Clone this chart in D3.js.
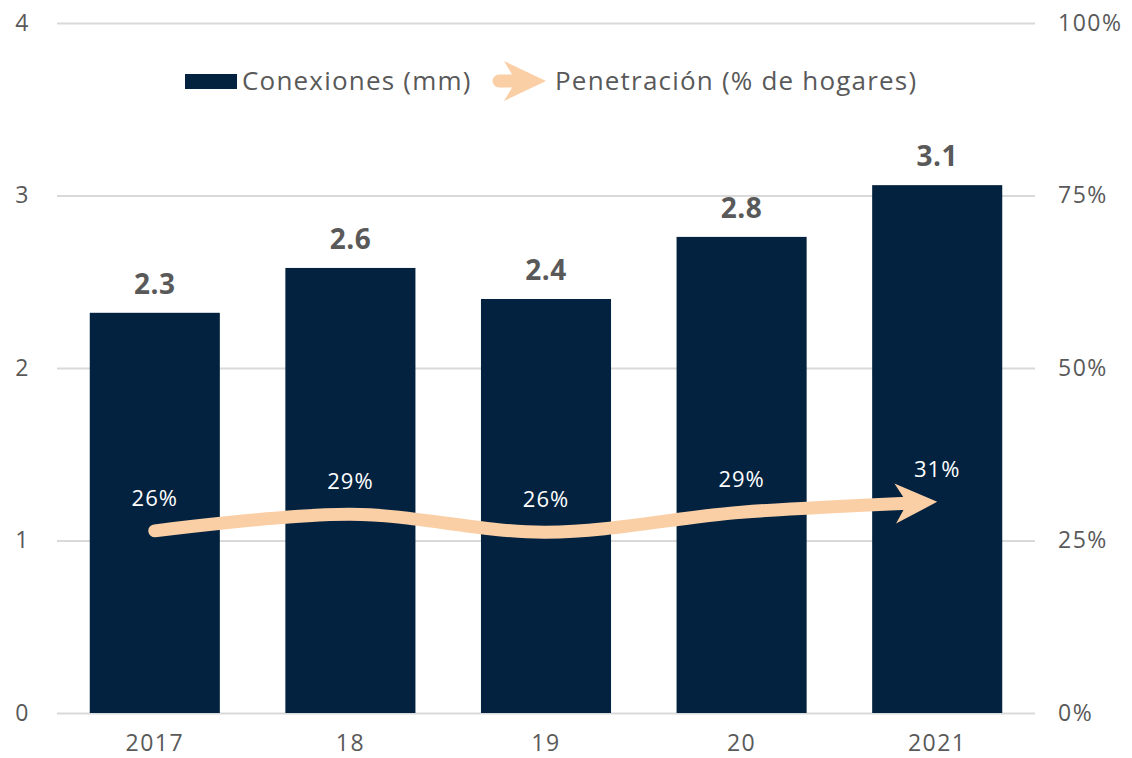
<!DOCTYPE html>
<html>
<head>
<meta charset="utf-8">
<script src="https://cdn.jsdelivr.net/npm/d3@7"></script>
<style>
  body { margin: 0; background: #fff; }
  svg { display: block; font-family: 'Open Sans', sans-serif; }
  .grid line { stroke: #d9d9d9; stroke-width: 2; }
  .axis text { fill: #595959; font-size: 23px; letter-spacing: 1.5px; }
</style>
</head>
<body>
<svg id="chart" width="1132" height="758"></svg>
<script>
// Data
var years = ['2017', '18', '19', '20', '2021']
var conexiones = [2.32, 2.58, 2.40, 2.76, 3.06]
var penetracion = [0.264, 0.288, 0.262, 0.291, 0.306]
var leftTicks = [0, 1, 2, 3, 4]
var rightTicks = [0, 0.25, 0.5, 0.75, 1]
var legendLabels = ['Conexiones (mm)', 'Penetración (% de hogares)']

var barColor = '#03223f'
var lineColor = '#fbcfa6'
var textGray = '#595959'

var svg = d3.select('#chart')

// Plot area (plain "top" would clash with window.top)
var m = {left: 57, right: 1035, top: 23, bottom: 713}

// Scales
var x = d3.scaleBand().domain(years).range([m.left, m.right])
  .paddingInner(0.335)
  .paddingOuter(0.1675)
var yL = d3.scaleLinear().domain([0, 4]).range([m.bottom, m.top])
var yR = d3.scaleLinear().domain([0, 1]).range([m.bottom, m.top])

// Arrow head marker
svg.append('defs').append('marker')
  .attr('id', 'arrow')
  .attr('markerUnits', 'userSpaceOnUse')
  .attr('viewBox', '0 -21 44 42')
  .attr('markerWidth', 44)
  .attr('markerHeight', 42)
  .attr('refX', 42)
  .attr('refY', 0)
  .attr('orient', 'auto')
  .append('path')
  .attr('d', 'M0,-20L42,0L0,20L12,0Z')
  .attr('fill', lineColor)

// Left axis with gridlines
var yAxisL = d3.axisLeft(yL)
  .tickValues(leftTicks)
  .tickFormat(d3.format('d'))
  .tickSize(-(m.right - m.left))
  .tickPadding(27)

svg.append('g')
  .attr('class', 'axis grid')
  .attr('transform', 'translate(' + m.left + ',0)')
  .call(yAxisL)
  .call(g => g.select('.domain').remove())

// Right axis
var yAxisR = d3.axisRight(yR)
  .tickValues(rightTicks)
  .tickSize(0)
  .tickPadding(23)
  .tickFormat(d3.format('.0%'))

svg.append('g')
  .attr('class', 'axis')
  .attr('transform', 'translate(' + m.right + ',0)')
  .call(yAxisR)
  .call(g => g.select('.domain').remove())

// Bottom axis
var xAxis = d3.axisBottom(x).tickSize(0).tickPadding(22)

svg.append('g')
  .attr('class', 'axis')
  .attr('transform', 'translate(0,' + m.bottom + ')')
  .call(xAxis)
  .call(g => g.select('.domain').remove())

svg.selectAll('.axis text').attr('font-family', "'Open Sans', sans-serif")

// Bars
svg.append('g').selectAll('rect')
  .data(conexiones)
  .join('rect')
  .attr('x', (d, i) => x(years[i]))
  .attr('width', x.bandwidth())
  .attr('y', d => yL(d))
  .attr('height', d => m.bottom - yL(d))
  .attr('fill', barColor)

// Bar labels
svg.append('g').selectAll('text')
  .data(conexiones)
  .join('text')
  .attr('x', (d, i) => x(years[i]) + x.bandwidth() / 2)
  .attr('y', d => yL(d) - 19)
  .attr('text-anchor', 'middle')
  .attr('font-size', 28)
  .attr('font-weight', 'bold')
  .attr('letter-spacing', 0.5)
  .attr('fill', textGray)
  .text(d3.format('.1f'))

// Penetration line
var pts = penetracion.map((d, i) => [x(years[i]) + x.bandwidth() / 2, yR(d)])
var line = d3.line().curve(d3.curveCatmullRom.alpha(0.5))

var path = svg.append('path')
  .attr('d', line(pts))
  .attr('fill', 'none')
  .attr('stroke', lineColor)
  .attr('stroke-width', 13)
  .attr('stroke-linecap', 'round')

// Stop the stroke before the tip so the head stays sharp
var len = path.node().getTotalLength()
path.attr('stroke-dasharray', (len - 30) + ',2000')

// Head at the exact end of the curve
var tail = path.node().getPointAtLength(len - 1)
var tip = path.node().getPointAtLength(len)
svg.append('path')
  .attr('d', 'M' + tail.x + ',' + tail.y + 'L' + tip.x + ',' + tip.y)
  .attr('fill', 'none')
  .attr('marker-end', 'url(#arrow)')

// Penetration labels
svg.append('g').selectAll('text')
  .data(penetracion)
  .join('text')
  .attr('x', (d, i) => pts[i][0])
  .attr('y', d => yR(d) - 25)
  .attr('text-anchor', 'middle')
  .attr('font-size', 22)
  .attr('letter-spacing', 1)
  .attr('fill', '#fff')
  .text(d3.format('.0%'))

// Legend
var legend = svg.append('g')

legend.append('rect')
  .attr('x', 185)
  .attr('y', 74)
  .attr('width', 52)
  .attr('height', 15)
  .attr('fill', barColor)

legend.append('text')
  .attr('x', 242)
  .attr('y', 81)
  .attr('dy', '0.35em')
  .attr('font-size', 26)
  .attr('letter-spacing', 1.2)
  .attr('fill', textGray)
  .text(legendLabels[0])

legend.append('line')
  .attr('x1', 499)
  .attr('x2', 522)
  .attr('y1', 81)
  .attr('y2', 81)
  .attr('stroke', lineColor)
  .attr('stroke-width', 13)
  .attr('stroke-linecap', 'round')

legend.append('path')
  .attr('d', 'M520,81L546,81')
  .attr('fill', 'none')
  .attr('marker-end', 'url(#arrow)')

legend.append('text')
  .attr('x', 555)
  .attr('y', 81)
  .attr('dy', '0.35em')
  .attr('font-size', 26)
  .attr('letter-spacing', 1.2)
  .attr('fill', textGray)
  .text(legendLabels[1])
</script>
</body>
</html>
